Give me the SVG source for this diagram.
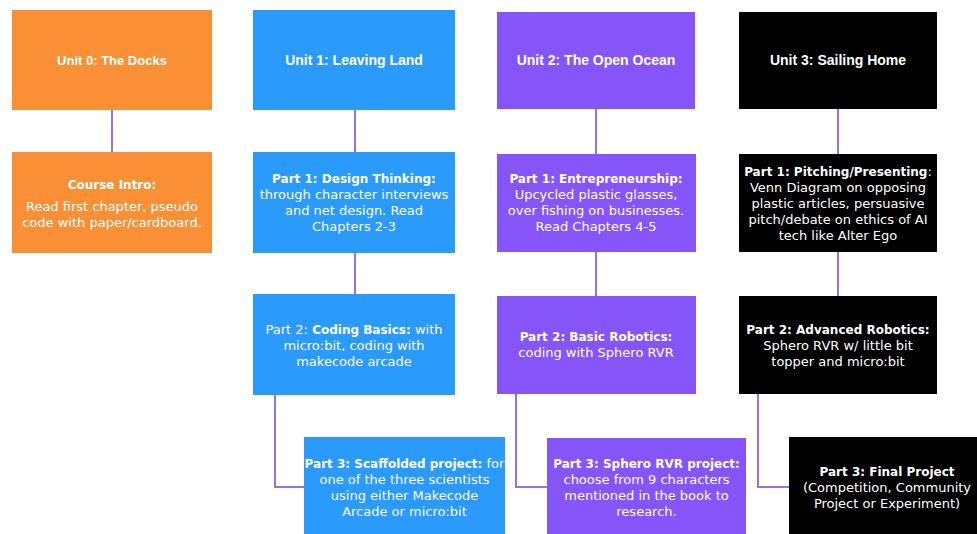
<svg xmlns="http://www.w3.org/2000/svg" width="977" height="534" viewBox="0 0 977 534">
  <style>
    .orange { fill: #FA8F35; }
    .blue { fill: #2A9AFC; }
    .purple { fill: #8555FA; }
    .black { fill: #000000; }
    .head { font-family: "Liberation Sans", Arial, sans-serif; font-weight: bold; font-size: 14px; fill: #ffffff; text-anchor: middle; }
    .head0 { font-family: "Liberation Sans", Arial, sans-serif; font-weight: bold; font-size: 13px; fill: #ffffff; text-anchor: middle; }
    .body { font-family: "DejaVu Sans", sans-serif; font-size: 13px; fill: #ffffff; text-anchor: middle; }
    .b { font-weight: bold; font-size: 12px; }
    .link { fill: none; stroke: #9273E6; stroke-width: 2; }
  </style>

  <!-- connectors -->
  <g id="connectors">
    <path class="link" d="M112 110 V152"/>
    <path class="link" d="M355 110 V152"/>
    <path class="link" d="M355 253 V294"/>
    <path class="link" d="M275 395 V487 H304"/>
    <path class="link" d="M596 109 V154"/>
    <path class="link" d="M596 252 V296"/>
    <path class="link" d="M516 394 V487 H547"/>
    <path class="link" d="M838 109 V154"/>
    <path class="link" d="M838 252 V296"/>
    <path class="link" d="M758 394 V487 H789"/>
  </g>

  <!-- Unit 0 -->
  <g id="unit0">
    <rect class="orange" x="12" y="10" width="200" height="100"/>
    <text class="head0" x="112" y="65">Unit 0: The Docks</text>
  </g>
  <g id="unit0-intro">
    <rect class="orange" x="12" y="152" width="200" height="101"/>
    <text class="body" x="112" y="189"><tspan class="b">Course Intro:</tspan></text>
    <text class="body" x="112" y="211">Read first chapter, pseudo</text>
    <text class="body" x="112" y="227">code with paper/cardboard.</text>
  </g>

  <!-- Unit 1 -->
  <g id="unit1">
    <rect class="blue" x="253" y="10" width="202" height="100"/>
    <text class="head" x="354" y="65">Unit 1: Leaving Land</text>
  </g>
  <g id="unit1-part1">
    <rect class="blue" x="253" y="152" width="202" height="101"/>
    <text class="body" x="354" y="183"><tspan class="b">Part 1: Design Thinking:</tspan></text>
    <text class="body" x="354" y="199">through character interviews</text>
    <text class="body" x="354" y="215">and net design. Read</text>
    <text class="body" x="354" y="231">Chapters 2-3</text>
  </g>
  <g id="unit1-part2">
    <rect class="blue" x="253" y="294" width="202" height="101"/>
    <text class="body" x="354" y="334">Part 2: <tspan class="b">Coding Basics:</tspan>  with</text>
    <text class="body" x="354" y="350">micro:bit, coding with</text>
    <text class="body" x="354" y="366">makecode arcade</text>
  </g>
  <g id="unit1-part3">
    <rect class="blue" x="304" y="437" width="201" height="100"/>
    <text class="body" x="404.5" y="468"><tspan class="b">Part 3: Scaffolded project:</tspan> for</text>
    <text class="body" x="404.5" y="484">one of the three scientists</text>
    <text class="body" x="404.5" y="500">using either Makecode</text>
    <text class="body" x="404.5" y="516">Arcade or micro:bit</text>
  </g>

  <!-- Unit 2 -->
  <g id="unit2">
    <rect class="purple" x="497" y="12" width="198" height="97"/>
    <text class="head" x="596" y="65">Unit 2: The Open Ocean</text>
  </g>
  <g id="unit2-part1">
    <rect class="purple" x="497" y="154" width="199" height="98"/>
    <text class="body" x="596" y="183"><tspan class="b">Part 1: Entrepreneurship:</tspan></text>
    <text class="body" x="596" y="199">Upcycled plastic glasses,</text>
    <text class="body" x="596" y="215">over fishing on businesses.</text>
    <text class="body" x="596" y="231">Read Chapters 4-5</text>
  </g>
  <g id="unit2-part2">
    <rect class="purple" x="497" y="296" width="199" height="98"/>
    <text class="body" x="596" y="341"><tspan class="b">Part 2: Basic Robotics:</tspan></text>
    <text class="body" x="596" y="357">coding with Sphero RVR</text>
  </g>
  <g id="unit2-part3">
    <rect class="purple" x="547" y="438" width="199" height="100"/>
    <text class="body" x="646.5" y="468"><tspan class="b">Part 3: Sphero RVR project:</tspan></text>
    <text class="body" x="646.5" y="484">choose from 9 characters</text>
    <text class="body" x="646.5" y="500">mentioned in the book to</text>
    <text class="body" x="646.5" y="516">research.</text>
  </g>

  <!-- Unit 3 -->
  <g id="unit3">
    <rect class="black" x="739" y="12" width="198" height="97"/>
    <text class="head" x="838" y="65">Unit 3: Sailing Home</text>
  </g>
  <g id="unit3-part1">
    <rect class="black" x="739" y="154" width="198" height="98"/>
    <text class="body" x="838" y="176"><tspan class="b">Part 1: Pitching/Presenting</tspan>:</text>
    <text class="body" x="838" y="192">Venn Diagram on opposing</text>
    <text class="body" x="838" y="208">plastic articles, persuasive</text>
    <text class="body" x="838" y="224">pitch/debate on ethics of AI</text>
    <text class="body" x="838" y="240">tech like Alter Ego</text>
  </g>
  <g id="unit3-part2">
    <rect class="black" x="739" y="296" width="198" height="98"/>
    <text class="body" x="838" y="334"><tspan class="b">Part 2: Advanced Robotics:</tspan></text>
    <text class="body" x="838" y="350">Sphero RVR w/ little bit</text>
    <text class="body" x="838" y="366">topper and micro:bit</text>
  </g>
  <g id="unit3-part3">
    <rect class="black" x="789" y="437" width="198" height="100"/>
    <text class="body" x="887" y="476"><tspan class="b">Part 3: Final Project</tspan></text>
    <text class="body" x="887" y="492">(Competition, Community</text>
    <text class="body" x="887" y="508">Project or Experiment)</text>
  </g>
</svg>
